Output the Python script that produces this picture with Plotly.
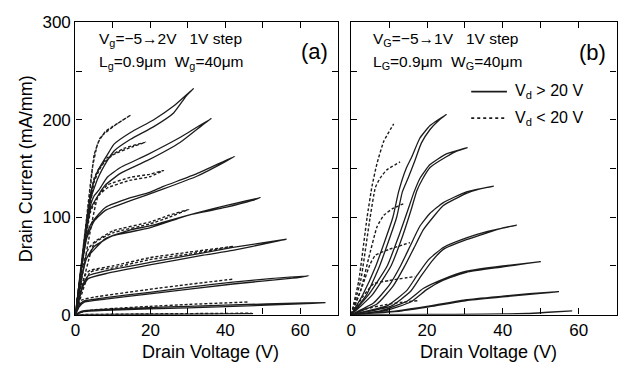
import plotly.graph_objects as go

# ---------------- Panel (a): Vg = -5 -> 2 V ----------------
# solid (Vd > 20 V sweeps), drawn as out-and-back loops
a_s_p2_vd = [0, 1, 2, 3, 4, 5, 6, 8.5, 10.3, 14.7, 20.9, 26.2, 31.5, 29.5, 26.2, 20.9, 14.7, 10.3, 8.5, 6, 4, 2, 0]
a_s_p2_id = [0, 32, 64, 96, 122, 138, 148, 164, 175, 187, 200, 214, 232, 224, 207, 193, 180, 168, 158, 140, 118, 62, 0]
a_s_p1_vd = [0, 1, 2, 3, 4, 5, 6.3, 8.5, 12, 19.1, 28, 36.3, 34, 28, 19.1, 12, 8, 6, 4, 2, 0]
a_s_p1_id = [0, 31, 62, 92, 112, 122, 128, 141, 151, 164, 182, 201.5, 195, 177, 158, 145, 133, 122, 108, 60, 0]
a_s_0_vd = [0, 1, 2, 3, 4, 5.5, 8, 14.7, 19.8, 23.5, 32.4, 42.5, 40, 32.4, 23.5, 14.7, 8, 5, 3, 1.5, 0]
a_s_0_id = [0, 30, 58, 80, 92, 100, 110, 120, 125.5, 131.6, 144.7, 162.5, 157, 142, 129, 117, 107, 96, 78, 44, 0]
a_s_m1_vd = [0, 1, 2, 3, 4.8, 8, 14.7, 19.8, 23.5, 32.4, 41.2, 49.4, 47, 40, 30, 19.8, 10, 5, 3, 1.5, 0]
a_s_m1_id = [0, 24, 44, 58, 66, 78, 87, 91, 95, 104.5, 113, 120.3, 117, 110, 102, 89, 81, 70, 58, 36, 0]
a_s_m2_vd = [0, 1, 1.7, 2.5, 3.4, 8, 19.8, 34.1, 42, 56.2, 52, 42, 34.1, 19.8, 8, 3.4, 2, 1, 0]
a_s_m2_id = [0, 18, 28, 35, 40, 45, 53.6, 63.4, 69, 77.4, 74, 66, 61, 51, 42, 37, 29, 16, 0]
a_s_m3_vd = [0, 0.7, 1.5, 2.5, 8, 19.8, 30, 42, 52, 62.2, 58, 42, 19.8, 8, 2.5, 1, 0]
a_s_m3_id = [0, 8, 12, 14.5, 17.5, 23, 28, 33.5, 37, 40, 37.5, 31.5, 21.3, 16, 13, 8, 0]
a_s_m4_vd = [0, 1, 2, 8, 19.8, 30, 46, 56, 66.7, 60, 46, 30, 19.8, 8, 2, 0]
a_s_m4_id = [0, 2.5, 4, 5.5, 7.3, 8.5, 10.5, 11.5, 12.4, 11, 9, 7, 6, 4.5, 3, 0]
a_s_m5_vd = [0, 10, 30, 47.4]
a_s_m5_id = [0, 0.3, 0.6, 1.0]

# dashed (Vd < 20 V sweeps)
a_d_p2_vd = [0, 1, 2, 3, 4, 5, 6.7, 10.3, 14.7, 12, 8, 6, 4.5, 3, 0]
a_d_p2_id = [0, 33, 66, 98, 130, 164, 182, 193.7, 204.7, 198, 188, 176, 150, 100, 0]
a_d_p1_vd = [0, 2, 4, 5, 6.3, 8.5, 12.9, 18.7, 15, 10, 7, 5, 0]
a_d_p1_id = [0, 62, 122, 140, 150, 161, 170.6, 177, 172, 164, 153, 136, 0]
a_d_0_vd = [0, 2, 4, 5.5, 6.7, 8.5, 14.7, 19.8, 23.5, 19.8, 14.7, 8.5, 6, 0]
a_d_0_id = [0, 58, 105, 118, 125, 133, 141, 144, 148, 141.5, 138, 130, 121, 0]
a_d_m1_vd = [0, 2, 3.5, 5.2, 10, 19.8, 25, 30.2, 25, 19.8, 10, 5, 0]
a_d_m1_id = [0, 50, 68, 75, 86, 95, 102, 108, 100, 93, 84, 73, 0]
a_d_m2_vd = [0, 1.5, 2.8, 3.9, 10, 19.8, 30, 42.1, 30, 19.8, 10, 3.9, 0]
a_d_m2_id = [0, 30, 42, 45.5, 50, 58.5, 64, 70, 62, 56.5, 48, 43.5, 0]
a_d_m3_vd = [0, 1, 1.7, 5, 19.8, 30, 42.1]
a_d_m3_id = [0, 10, 15, 18, 26, 31, 36.5]
a_d_m4_vd = [0, 1.4, 5, 19.8, 30, 46]
a_d_m4_id = [0, 2.5, 5, 8.5, 10.5, 13]
a_d_m5_vd = [0, 20, 47]
a_d_m5_id = [0, 0.8, 1.5]

# ---------------- Panel (b): Vg = -5 -> 1 V ----------------
b_s_p1_vd = [0, 3, 6.5, 11, 12.5, 14.5, 16, 18.1, 20.8, 25.1, 23, 20.8, 18.5, 16.8, 15, 13.5, 12, 7.5, 4, 0]
b_s_p1_id = [0, 20, 50, 100, 126, 150, 162, 181, 194, 205.5, 199, 190, 176, 158, 140, 126, 100, 50, 20, 0]
b_s_0_vd = [0, 4.5, 9.5, 12.5, 15, 16.6, 18.3, 20.8, 25.1, 30.6, 28, 25.1, 20.8, 18.8, 17.3, 16, 13.5, 10.5, 5.5, 0]
b_s_0_id = [0, 20, 50, 80, 108, 126, 141, 154, 165, 171.3, 168, 162, 151, 139, 127, 110, 80, 50, 20, 0]
b_s_m1_vd = [0, 5.9, 10, 13, 15.5, 18, 20.8, 24.3, 30.4, 37.5, 34, 30.4, 24.3, 21.6, 19, 16.5, 14, 11, 6.8, 0]
b_s_m1_id = [0, 12, 30, 50, 70, 90, 104, 115, 126, 131.8, 129, 124.5, 112, 100, 87, 68, 49, 29, 11, 0]
b_s_m2_vd = [0, 9.4, 14.7, 17.5, 20.3, 24.3, 30.4, 36, 43.6, 40, 30.4, 24.3, 21.3, 18.5, 15.7, 10.4, 0]
b_s_m2_id = [0, 9, 25, 41, 56, 69, 78.8, 85.5, 91.8, 89, 77, 67, 55, 40, 24, 8.5, 0]
b_s_m3_vd = [0, 7.7, 14.7, 19, 24.3, 30.4, 40, 50, 46, 40, 30.4, 24.3, 20, 15.7, 8.7, 0]
b_s_m3_id = [0, 4, 13.8, 26.8, 36.5, 44.6, 50, 54.4, 52.5, 49, 43.5, 35.5, 26, 13, 3.8, 0]
b_s_m4_vd = [0, 12, 20.8, 30.4, 40, 47, 54.8, 50, 40, 30.4, 20.8, 13, 0]
b_s_m4_id = [0, 4, 9, 15.4, 19, 21.5, 23.6, 22, 18.2, 14.5, 8.3, 3.8, 0]
b_s_m5_vd = [0, 20, 35, 46.5, 52, 58.3]
b_s_m5_id = [0, 0.2, 0.5, 1.2, 2.5, 4]

b_d_p1_vd = [0, 2, 4.2, 5.5, 6.8, 8.6, 11.2]
b_d_p1_id = [0, 35, 100, 132, 155, 178, 195.7]
b_d_0_vd = [0, 2.5, 5, 6.4, 7.7, 9.4, 12.9]
b_d_0_id = [0, 35, 100, 130.8, 140.5, 148.6, 156.7]
b_d_m1_vd = [0, 2.5, 4.6, 6.8, 8.6, 11, 14.2]
b_d_m1_id = [0, 25, 57.7, 90, 102, 109, 114.5]
b_d_m2_vd = [0, 3, 5, 6.4, 10, 15.5]
b_d_m2_id = [0, 30, 52, 61, 67, 74]
b_d_m3_vd = [0, 3, 5.9, 10, 16.8]
b_d_m3_id = [0, 18, 31.7, 35, 39.2]
b_d_m4_vd = [0, 4, 9.4, 13, 17.7]
b_d_m4_id = [0, 6, 10.5, 12.5, 14.4]

x_ticks = [0, 20, 40, 60]
y_ticks = [0, 100, 200, 300]

LINE = "#1c1c1c"
FONT = "Liberation Sans, Arial, Helvetica, sans-serif"

solid_a = [(a_s_p2_vd, a_s_p2_id), (a_s_p1_vd, a_s_p1_id), (a_s_0_vd, a_s_0_id),
           (a_s_m1_vd, a_s_m1_id), (a_s_m2_vd, a_s_m2_id), (a_s_m3_vd, a_s_m3_id),
           (a_s_m4_vd, a_s_m4_id), (a_s_m5_vd, a_s_m5_id)]
dash_a = [(a_d_p2_vd, a_d_p2_id), (a_d_p1_vd, a_d_p1_id), (a_d_0_vd, a_d_0_id),
          (a_d_m1_vd, a_d_m1_id), (a_d_m2_vd, a_d_m2_id), (a_d_m3_vd, a_d_m3_id),
          (a_d_m4_vd, a_d_m4_id), (a_d_m5_vd, a_d_m5_id)]
solid_b = [(b_s_p1_vd, b_s_p1_id), (b_s_0_vd, b_s_0_id), (b_s_m1_vd, b_s_m1_id),
           (b_s_m2_vd, b_s_m2_id), (b_s_m3_vd, b_s_m3_id), (b_s_m4_vd, b_s_m4_id),
           (b_s_m5_vd, b_s_m5_id)]
dash_b = [(b_d_p1_vd, b_d_p1_id), (b_d_0_vd, b_d_0_id), (b_d_m1_vd, b_d_m1_id),
          (b_d_m2_vd, b_d_m2_id), (b_d_m3_vd, b_d_m3_id), (b_d_m4_vd, b_d_m4_id)]

fig = go.Figure()


def add(vd, idd, xa, ya, dash):
    fig.add_trace(go.Scatter(
        x=vd, y=idd, xaxis=xa, yaxis=ya, mode="lines", showlegend=False,
        hoverinfo="skip",
        line=dict(color=LINE, width=1.3 if dash == "solid" else 1.4, dash=dash,
                  shape="spline", smoothing=0.45)))


for vd, idd in solid_a:
    add(vd, idd, "x", "y", "solid")
for vd, idd in dash_a:
    add(vd, idd, "x", "y", "3px,2px")
for vd, idd in solid_b:
    add(vd, idd, "x2", "y2", "solid")
for vd, idd in dash_b:
    add(vd, idd, "x2", "y2", "3px,2px")

W, H = 621, 375
xa_dom = [71 / W, 335.5 / W]
xb_dom = [349 / W, 616.5 / W]
y_dom = [1 - 322 / H, 1 - 14 / H]

axis_common = dict(
    showline=True, linecolor="black", linewidth=1.4, mirror="ticks",
    ticks="inside", ticklen=6, tickwidth=1.2, tickcolor="black",
    showgrid=False, zeroline=False,
    tickfont=dict(family=FONT, size=17, color="black"),
)

fig.update_layout(
    width=W, height=H,
    margin=dict(l=0, r=0, t=0, b=0),
    paper_bgcolor="white", plot_bgcolor="white",
    xaxis=dict(domain=xa_dom, range=[0, 70], tickvals=x_ticks, anchor="y",
               minor=dict(dtick=10, tick0=0, ticks="inside", ticklen=6, tickcolor="black"),
               **axis_common),
    yaxis=dict(domain=y_dom, range=[0, 300], tickvals=y_ticks, anchor="x",
               minor=dict(dtick=50, tick0=0, ticks="inside", ticklen=6, tickcolor="black"),
               **axis_common),
    xaxis2=dict(domain=xb_dom, range=[0, 70], tickvals=x_ticks, anchor="y2",
                minor=dict(dtick=10, tick0=0, ticks="inside", ticklen=6, tickcolor="black"),
                **axis_common),
    yaxis2=dict(domain=y_dom, range=[0, 300], tickvals=y_ticks, anchor="x2",
                showticklabels=False,
                minor=dict(dtick=50, tick0=0, ticks="inside", ticklen=6, tickcolor="black"),
                **axis_common),
)


def txt(x, y, s, size=15, xanchor="left", angle=0):
    fig.add_annotation(x=x / W, y=1 - y / H, xref="paper", yref="paper", text=s,
                       showarrow=False, xanchor=xanchor, yanchor="middle", textangle=angle,
                       font=dict(family=FONT, size=size, color="black"))


# panel (a) texts
txt(93, 32, "V<sub>g</sub>=\u22125\u21922V   1V step", size=15.5)
txt(93, 56, "L<sub>g</sub>=0.9\u03bcm  W<sub>g</sub>=40\u03bcm", size=15.5)
txt(312, 45, "(a)", size=22, xanchor="center")
# panel (b) texts
txt(369, 32, "V<sub>G</sub>=\u22125\u21921V   1V step", size=15.5)
txt(369, 56, "L<sub>G</sub>=0.9\u03bcm  W<sub>G</sub>=40\u03bcm", size=15.5)
txt(592, 46, "(b)", size=22, xanchor="center")
# legend
txt(512, 87, "V<sub>d</sub> > 20 V", size=16)
txt(512, 115, "V<sub>d</sub> < 20 V", size=16)
fig.add_shape(type="line", xref="paper", yref="paper", x0=470 / W, x1=506 / W,
              y0=1 - 87 / H, y1=1 - 87 / H, line=dict(color=LINE, width=1.6))
fig.add_shape(type="line", xref="paper", yref="paper", x0=470 / W, x1=506 / W,
              y0=1 - 115 / H, y1=1 - 115 / H, line=dict(color=LINE, width=1.6, dash="dot"))
# axis titles
txt(207, 361, "Drain Voltage (V)", size=18, xanchor="center")
txt(487, 361, "Drain Voltage (V)", size=18, xanchor="center")
txt(22, 168, "Drain Current (mA/mm)", size=18, xanchor="center", angle=-90)

fig.write_html("out.html")
